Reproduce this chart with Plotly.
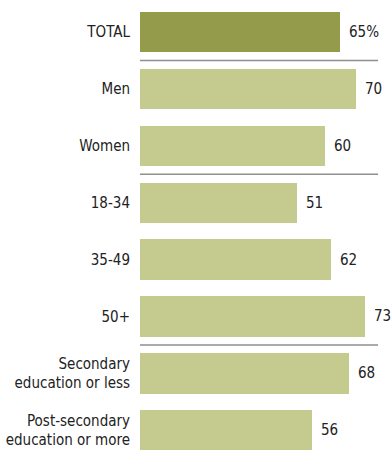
import plotly.graph_objects as go

categories = ["TOTAL", "Men", "Women", "18-34", "35-49", "50+",
              "Secondary<br>education or less", "Post-secondary<br>education or more"]
values = [65, 70, 60, 51, 62, 73, 68, 56]
value_labels = ["65%", "70", "60", "51", "62", "73", "68", "56"]
separators_after = [0, 2, 5]

DARK = "#949C4B"
LIGHT = "#C5CB8E"
FONT = "DejaVu Sans Condensed, sans-serif"
FS = 15

colors = [DARK if i == 0 else LIGHT for i in range(len(categories))]

fig = go.Figure(go.Bar(
    x=values, y=categories, orientation="h",
    marker=dict(color=colors, line=dict(width=0)),
    width=0.71, hoverinfo="skip",
))

for c, v, t in zip(categories, values, value_labels):
    fig.add_annotation(x=v, y=c, text=t, showarrow=False, xanchor="left",
                       xshift=7, font=dict(family=FONT, size=FS, color="#222222"))

for i in separators_after:
    fig.add_shape(type="line", xref="x", yref="y", x0=0, x1=77.3,
                  y0=i + 0.5, y1=i + 0.5, line=dict(color="#8f8f8f", width=1.6))

fig.update_layout(
    width=391, height=451,
    margin=dict(l=140, r=0, t=0, b=0),
    paper_bgcolor="white", plot_bgcolor="white",
    showlegend=False,
    font=dict(family=FONT, size=FS, color="#222222"),
    bargap=0,
)
fig.update_xaxes(range=[0, 81.5], visible=False, fixedrange=True, automargin=False)
fig.update_yaxes(type="category", categoryorder="array", categoryarray=categories,
                 range=[7.364, -0.5624], showgrid=False, zeroline=False, showline=False,
                 ticks="outside", ticklen=6, tickcolor="rgba(0,0,0,0)", automargin=False,
                 tickfont=dict(family=FONT, size=FS, color="#222222"), fixedrange=True)

fig.write_html("out.html")
